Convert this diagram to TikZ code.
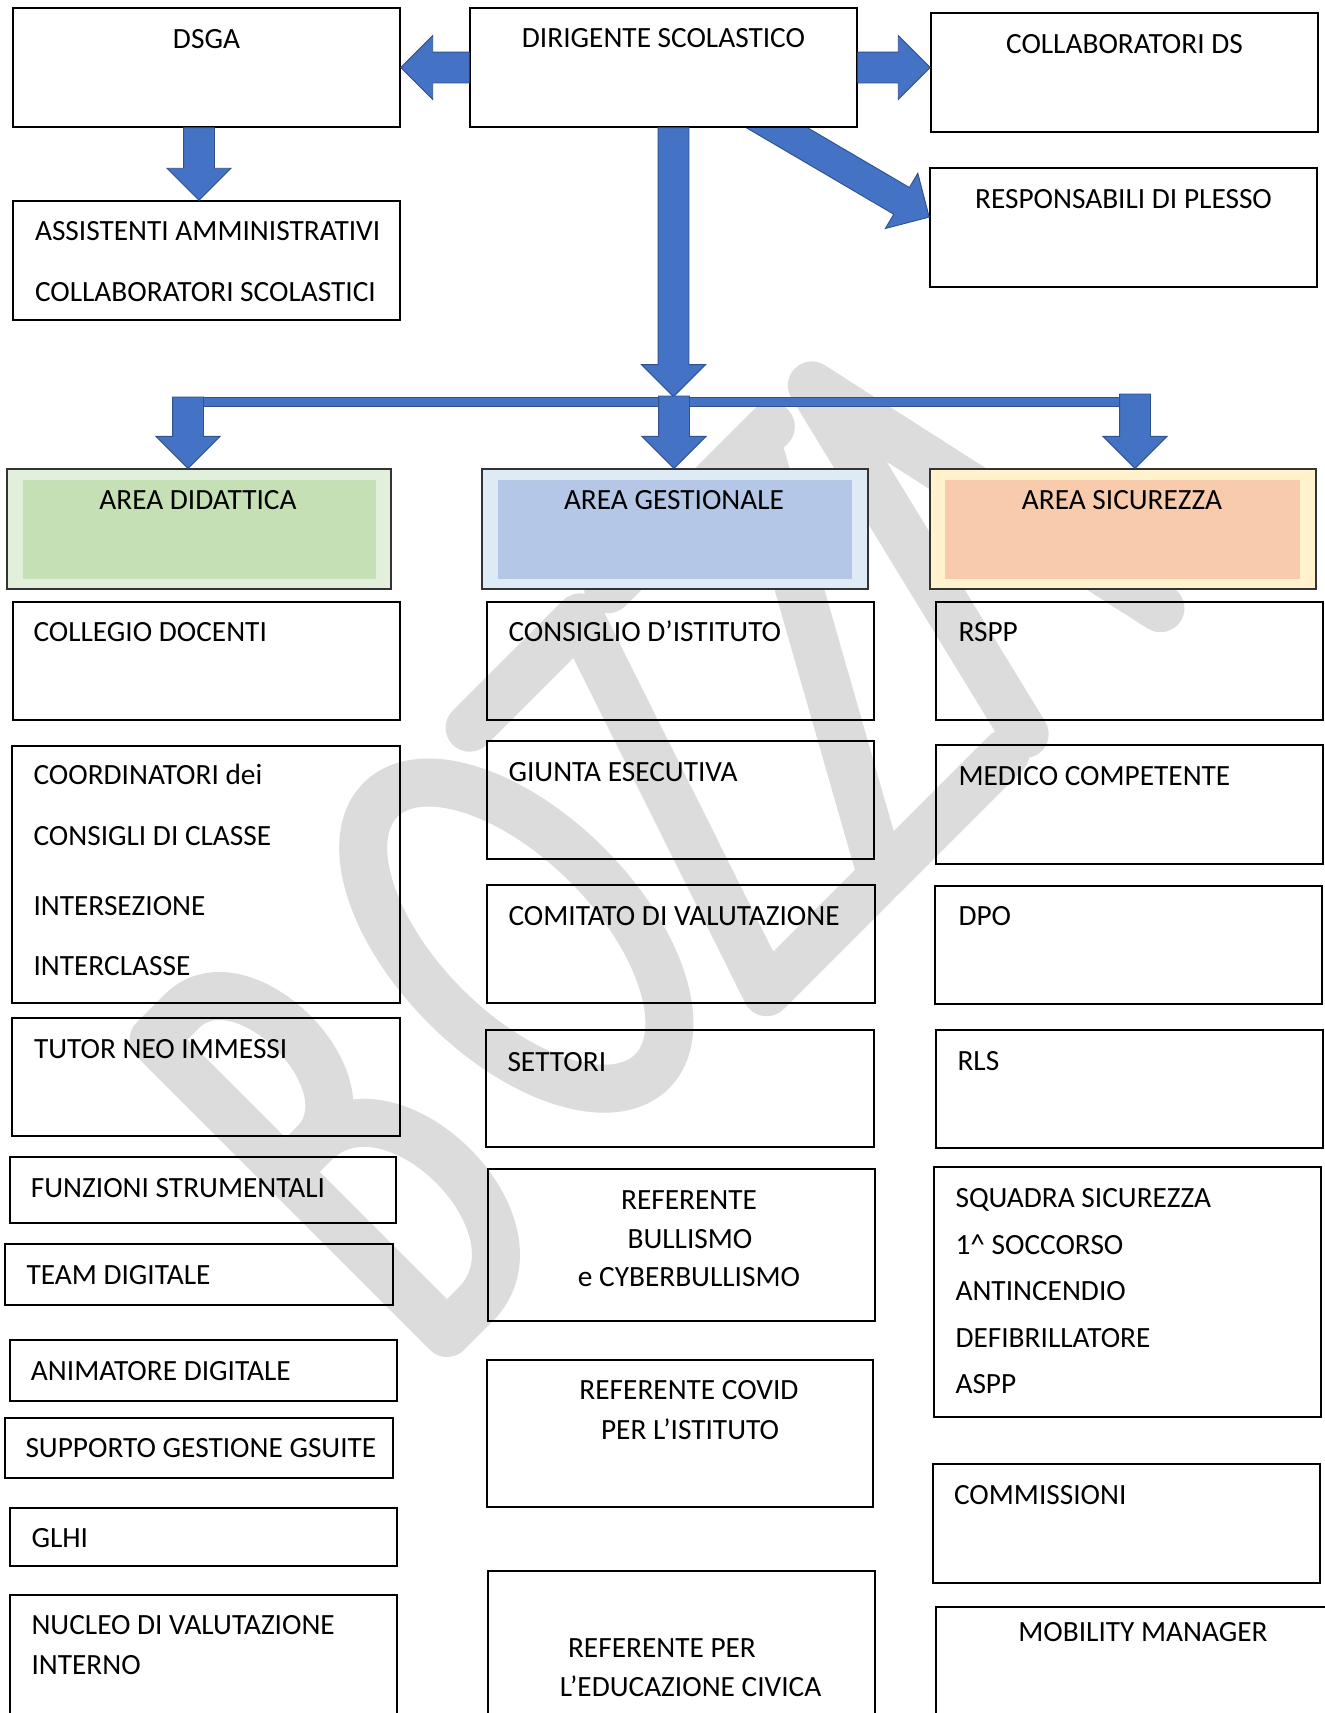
\documentclass[tikz,border=0pt]{standalone}
\usepackage{fontspec}
\setmainfont{Carlito}
\usetikzlibrary{calc,fit}
\definecolor{arrowblue}{HTML}{4472C4}
\definecolor{arrowdark}{HTML}{2F528F}
\definecolor{wmgray}{HTML}{DCDCDC}
\definecolor{didout}{HTML}{E2EFDA}
\definecolor{didin}{HTML}{C5E0B4}
\definecolor{gesout}{HTML}{DEEBF7}
\definecolor{gesin}{HTML}{B4C7E7}
\definecolor{sicout}{HTML}{FFF2CC}
\definecolor{sicin}{HTML}{F8CBAD}

\newcommand{\blockarrow}[2]{%
  \filldraw[barrow] let \p1=#1, \p2=#2,
    \n1={atan2(\y2-\y1,\x2-\x1)}, \n2={veclen(\x2-\x1,\y2-\y1)} in
  [shift={(\p1)}, rotate=\n1]
  (0pt,5.8pt) -- ({\n2-12pt},5.8pt) -- ({\n2-12pt},12pt) -- ({\n2+0pt},0pt)
  -- ({\n2-12pt},-12pt) -- ({\n2-12pt},-5.8pt) -- (0pt,-5.8pt) -- cycle;}

\begin{document}
\begin{tikzpicture}[x=0.375pt, y=-0.375pt,
  box/.style={draw=black, line width=0.55pt, inner sep=0pt},
  areaout/.style={draw=black!80, line width=0.5pt, inner sep=0pt},
  areain/.style={inner sep=0pt},
  txt/.style={inner sep=0pt, font=\fontsize{11}{13}\selectfont},
  barrow/.style={fill=arrowblue, draw=arrowdark, line width=0.35pt, line join=miter},
  wm/.style={draw=wmgray, line width=18pt, line cap=round, line join=round}]
\useasboundingbox (0,0) rectangle (1325,1713);
\clip (0,0) rectangle (1325,1713);
\fill[white] (0,0) rectangle (1325,1713);

% ---------- watermark (behind everything) ----------
\begin{scope}[shift={(447,1333)}, x={(0.26517pt,0.26517pt)}, y={(-0.26517pt,0.26517pt)}]
  \draw[wm] (40,228) -- (0,228) -- (0,415) -- (40,415)
     .. controls (125,415) and (125,228) .. (40,228)
     .. controls (150,228) and (150,0) .. (40,0) -- (0,0) -- (0,228);
  \draw[wm] (330,232) ellipse [x radius=100, y radius=192];
  \draw[wm] (444,412) -- (600,412) -- (467,15) -- (622,15);
  \draw[wm] (640,412) -- (870,412);
  \draw[wm] (850,412) -- (630,15) -- (805,15);
  \draw[wm] (832,15) -- (928,412) -- (1017,8);
\end{scope}

% ---------- top boxes ----------
\node[box, fit={(13,8) (400,127)}] (DSGA) {};
\node[box, fit={(931,13) (1318,132)}] (COL) {};
\node[box, fit={(930,168) (1317,287)}] (RESP) {};
\node[box, fit={(13,201) (400,320)}] (ASS) {};

% ---------- area boxes ----------
\node[areaout, fill=didout, fit={(7,469) (391,589)}] (DID) {};
\node[areain, fill=didin, fit={(23,480) (376,579)}] (DIDin) {};
\node[areaout, fill=gesout, fit={(482,469) (868,589)}] (GES) {};
\node[areain, fill=gesin, fit={(498,480) (852,579)}] (GESin) {};
\node[areaout, fill=sicout, fit={(930,469) (1316,589)}] (SIC) {};
\node[areain, fill=sicin, fit={(945,480) (1300,579)}] (SICin) {};

% ---------- bar ----------
\node[fill=arrowblue, draw=arrowdark, line width=0.3pt, inner sep=0pt,
      fit={(187,397) (1136,406)}] (bar) {};

% ---------- arrows ----------
\coordinate (diagS) at (741.6,107);
\coordinate (diagE) at ([yshift=3.9pt]RESP.west);
\blockarrow{(diagS)}{(diagE)}
\node[box, fill=white, fit={(470,8) (857,127)}] (DS) {};

\blockarrow{(DS.west)}{(DS.west -| DSGA.east)}
\blockarrow{(DS.east)}{(DS.east -| COL.west)}
\coordinate (dsgaS) at ([xshift=-2.8pt]DSGA.south);
\blockarrow{(dsgaS)}{(dsgaS |- ASS.north)}
\coordinate (dsS) at ([xshift=3.75pt]DS.south);
\blockarrow{(dsS)}{(dsS |- bar.north)}
\coordinate (b1) at (188,397);
\coordinate (b2) at (674,396);
\coordinate (b3) at (1135,394);
\blockarrow{(b1)}{(b1 |- DID.north)}
\blockarrow{(b2)}{(b2 |- GES.north)}
\blockarrow{(b3)}{(b3 |- SIC.north)}

% ---------- left column ----------
\node[box, fit={(13,602) (400,720)}] (COLL) {};
\node[box, fit={(12,746) (400,1003)}] (COORD) {};
\node[box, fit={(12,1018) (400,1136)}] (TUT) {};
\node[box, fit={(10,1157) (396,1223)}] (FUN) {};
\node[box, fit={(5,1244) (393,1305)}] (TEAM) {};
\node[box, fit={(10,1340) (397,1401)}] (ANIM) {};
\node[box, fit={(5,1418) (393,1478)}] (SUPP) {};
\node[box, fit={(10,1508) (397,1566)}] (GLHI) {};
\node[box, fit={(10,1595) (397,1740)}] (NUC) {};

% ---------- middle column ----------
\node[box, fit={(487,602) (874,720)}] (CONS) {};
\node[box, fit={(487,741) (874,859)}] (GIU) {};
\node[box, fit={(487,885) (875,1003)}] (COMI) {};
\node[box, fit={(486,1030) (874,1147)}] (SET) {};
\node[box, fit={(488,1169) (875,1321)}] (BULL) {};
\node[box, fit={(487,1360) (873,1507)}] (COVID) {};
\node[box, fit={(488,1571) (875,1740)}] (EDU) {};

% ---------- right column ----------
\node[box, fit={(936,602) (1323,720)}] (RSPP) {};
\node[box, fit={(936,745) (1323,864)}] (MED) {};
\node[box, fit={(935,886) (1322,1004)}] (DPO) {};
\node[box, fit={(936,1030) (1323,1148)}] (RLS) {};
\node[box, fit={(934,1167) (1321,1417)}] (SQUA) {};
\node[box, fit={(933,1464) (1320,1583)}] (COMM) {};
\node[box, fit={(936,1607) (1345,1740)}] (MOB) {};

% ---------- texts ----------
\node[txt, anchor=base] (tDSGA) at (206.5,48) {DSGA};
\node[txt, anchor=base] (tDS) at (663.5,47) {DIRIGENTE SCOLASTICO};
\node[txt, anchor=base] (tCOL) at (1124.5,53) {COLLABORATORI DS};
\node[txt, anchor=base] (tRESP) at (1123.5,208) {RESPONSABILI DI PLESSO};
\node[txt, anchor=base west] (tASS1) at (34.5,240) {ASSISTENTI AMMINISTRATIVI};
\node[txt, anchor=base west] (tASS2) at (34.5,301) {COLLABORATORI SCOLASTICI};

\node[txt, anchor=base] (tDID) at (198,509) {AREA DIDATTICA};
\node[txt, anchor=base] (tGES) at (674,509) {AREA GESTIONALE};
\node[txt, anchor=base] (tSIC) at (1122,509) {AREA SICUREZZA};

\node[txt, anchor=base west] (tCOLL) at (33,641) {COLLEGIO DOCENTI};
\node[txt, anchor=base west] (tCO1) at (33,784) {COORDINATORI dei};
\node[txt, anchor=base west] (tCO2) at (33,845) {CONSIGLI DI CLASSE};
\node[txt, anchor=base west] (tCO3) at (33,915) {INTERSEZIONE};
\node[txt, anchor=base west] (tCO4) at (33,975) {INTERCLASSE};
\node[txt, anchor=base west] (tTUT) at (33.5,1058) {TUTOR NEO IMMESSI};
\node[txt, anchor=base west] (tFUN) at (30.4,1197) {FUNZIONI STRUMENTALI};
\node[txt, anchor=base west] (tTEAM) at (26,1284) {TEAM DIGITALE};
\node[txt, anchor=base west] (tANIM) at (30.4,1380) {ANIMATORE DIGITALE};
\node[txt, anchor=base west] (tSUPP) at (25,1457) {SUPPORTO GESTIONE GSUITE};
\node[txt, anchor=base west] (tGLHI) at (31,1547) {GLHI};
\node[txt, anchor=base west] (tNUC1) at (31,1634) {NUCLEO DI VALUTAZIONE};
\node[txt, anchor=base west] (tNUC2) at (31,1674) {INTERNO};

\node[txt, anchor=base west] (tCONS) at (508,641) {CONSIGLIO D’ISTITUTO};
\node[txt, anchor=base west] (tGIU) at (508,781) {GIUNTA ESECUTIVA};
\node[txt, anchor=base west] (tCOMI) at (508,925) {COMITATO DI VALUTAZIONE};
\node[txt, anchor=base west] (tSET) at (507,1071) {SETTORI};
\node[txt, anchor=base] (tBU1) at (689,1209) {REFERENTE};
\node[txt, anchor=base] (tBU2) at (690,1248) {BULLISMO};
\node[txt, anchor=base] (tBU3) at (689,1286) {e CYBERBULLISMO};
\node[txt, anchor=base] (tCV1) at (689,1399) {REFERENTE COVID};
\node[txt, anchor=base] (tCV2) at (690,1439) {PER L’ISTITUTO};
\node[txt, anchor=base] (tED1) at (662,1657) {REFERENTE PER};
\node[txt, anchor=base] (tED2) at (690.6,1696) {L’EDUCAZIONE CIVICA};

\node[txt, anchor=base west] (tRSPP) at (958,641) {RSPP};
\node[txt, anchor=base west] (tMED) at (958,785) {MEDICO COMPETENTE};
\node[txt, anchor=base west] (tDPO) at (958,925) {DPO};
\node[txt, anchor=base west] (tRLS) at (957,1070) {RLS};
\node[txt, anchor=base west] (tSQ1) at (955,1207) {SQUADRA SICUREZZA};
\node[txt, anchor=base west] (tSQ2) at (955,1254) {1\textasciicircum{} SOCCORSO};
\node[txt, anchor=base west] (tSQ3) at (955,1300) {ANTINCENDIO};
\node[txt, anchor=base west] (tSQ4) at (955,1347) {DEFIBRILLATORE};
\node[txt, anchor=base west] (tSQ5) at (955,1393) {ASPP};
\node[txt, anchor=base west] (tCOMM) at (953.5,1504) {COMMISSIONI};
\node[txt, anchor=base] (tMOB) at (1143,1641) {MOBILITY MANAGER};
\end{tikzpicture}
\end{document}
